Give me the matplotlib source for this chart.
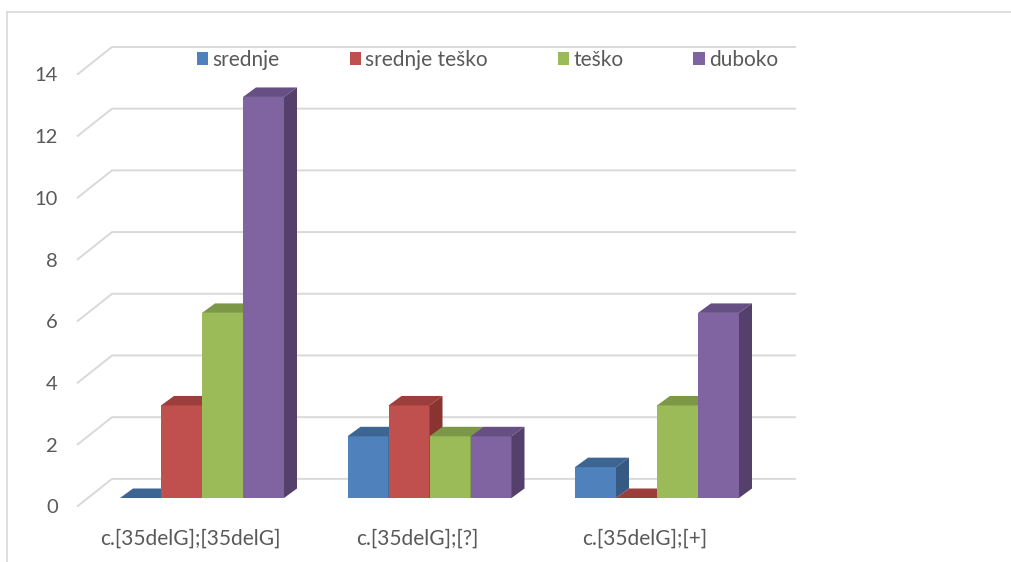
import matplotlib.pyplot as plt
from matplotlib.patches import Polygon, Patch

# podaci
kategorije = ["c.[35delG];[35delG]", "c.[35delG];[?]", "c.[35delG];[+]"]
serije = ["srednje", "srednje teško", "teško", "duboko"]
srednje = [0, 2, 1]
srednje_tesko = [3, 3, 0]
tesko = [6, 2, 3]
duboko = [13, 2, 6]
y_oznake = [0, 2, 4, 6, 8, 10, 12, 14]

vrijednosti = [srednje, srednje_tesko, tesko, duboko]

# boje: prednja strana, gornja strana, bočna strana
boje = [
    ("#4f81bd", "#3d6594", "#365a84"),
    ("#c0504d", "#9c3e3b", "#8a3431"),
    ("#9bbb59", "#7c9846", "#6c843d"),
    ("#8064a2", "#654f83", "#54406b"),
]

plt.rcParams["font.family"] = ["Lato", "DejaVu Sans"]
SIVA = "#595959"
MREZA = "#d9d9d9"

W, H = 1011, 562
fig = plt.figure(figsize=(W / 100, H / 100), dpi=100)
ax = fig.add_axes([0, 0, 1, 1])

# mjerilo: 1 kategorija = 227.5 px, 1 jedinica = 30.85 px
px_x = 227.5
px_y = 30.85
x0_px, y0_px = 202, 498
ax.set_xlim(-x0_px / px_x, (W - x0_px) / px_x)
ax.set_ylim(-(H - y0_px) / px_y, y0_px / px_y)
ax.axis("off")

# dubina stupca
dx = 13 / px_x
dy = 9.5 / px_y
sirina = 41 / px_x

# zidovi i mreža u perspektivi
zid_l, zid_d = -90 / px_x, 594 / px_x
pod_l = -125 / px_x
naprijed, straga = -0.28, 0.62
for v in y_oznake:
    ax.plot([pod_l, zid_l, zid_d], [v + naprijed, v + straga, v + straga],
            color=MREZA, lw=1.4, zorder=1, solid_capstyle="butt")
    ax.text(-144 / px_x, v - 0.32, str(v), ha="right", va="center",
            fontsize=14.5, color=SIVA)

# stupci
z = 2
for i in range(len(kategorije)):
    for j, serija in enumerate(vrijednosti):
        v = serija[i]
        lijevo = i + (j - 2) * sirina
        desno = lijevo + sirina
        prednja, gornja, bocna = boje[j]
        if v > 0:
            ax.add_patch(Polygon([(lijevo, 0), (desno, 0), (desno, v), (lijevo, v)],
                                 closed=True, fc=prednja, ec="none", zorder=z))
        ax.add_patch(Polygon([(lijevo, v), (desno, v), (desno + dx, v + dy), (lijevo + dx, v + dy)],
                             closed=True, fc=gornja, ec="none", zorder=z))
        if v > 0:
            ax.add_patch(Polygon([(desno, 0), (desno + dx, dy), (desno + dx, v + dy), (desno, v)],
                                 closed=True, fc=bocna, ec="none", zorder=z))
        z += 1
    ax.text(i - 12 / px_x, -1.33, kategorije[i], ha="center", va="center",
            fontsize=15, color=SIVA)

# okvir grafikona
fig.add_artist(plt.Line2D([6.5 / W, 6.5 / W], [0, 1 - 12 / H], transform=fig.transFigure,
                          color=MREZA, lw=1.2))
fig.add_artist(plt.Line2D([6.5 / W, 1], [1 - 12 / H, 1 - 12 / H], transform=fig.transFigure,
                          color=MREZA, lw=1.2))

# legenda
rucke = [Patch(fc=b[0], ec="none") for b in boje]
ax.legend(rucke, serije, loc="center left", bbox_to_anchor=(197 / W, 1 - 60 / H),
          bbox_transform=fig.transFigure, ncol=4, frameon=False, fontsize=15,
          labelcolor=SIVA, handlelength=0.55, handleheight=0.55, handletextpad=0.2,
          columnspacing=3.35, borderpad=0, borderaxespad=0)

fig.savefig("out.png", dpi=100)
